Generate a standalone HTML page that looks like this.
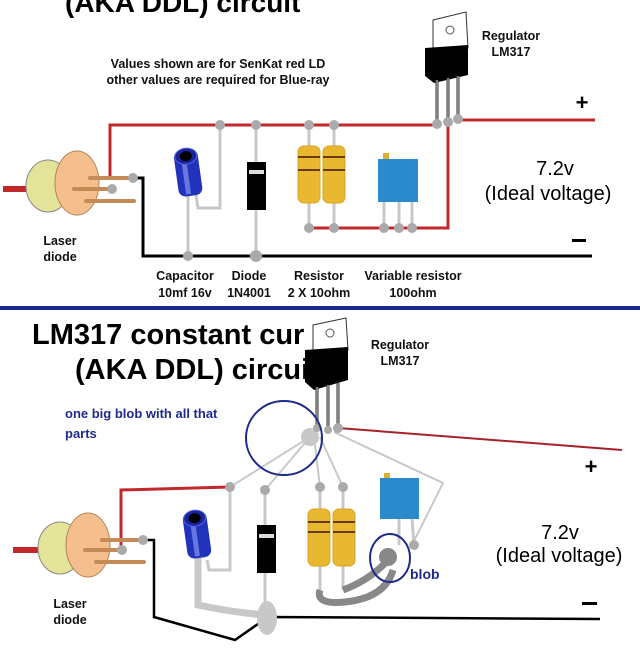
<!DOCTYPE html>
<html><head><meta charset="utf-8"><style>
html,body{margin:0;padding:0;background:#fff;}
svg{display:block;}
text{font-family:"Liberation Sans",sans-serif;}
.c{font-family:"Liberation Sans Narrow","Liberation Sans",sans-serif;font-weight:bold;font-size:12.5px;fill:#111;}
</style></head><body>
<svg width="640" height="650" viewBox="0 0 640 650" xmlns="http://www.w3.org/2000/svg">
<!-- ============ TOP ============ -->
<text x="65" y="12" font-size="28" font-weight="bold" fill="#000">(AKA DDL) circuit</text>
<text class="c" x="218" y="68" text-anchor="middle">Values shown are for SenKat red LD</text>
<text class="c" x="218" y="84" text-anchor="middle">other values are required for Blue-ray</text>
<text class="c" x="511" y="40" text-anchor="middle">Regulator</text>
<text class="c" x="511" y="56" text-anchor="middle">LM317</text>
<polygon points="433,20 466,12 468,48 433,48" fill="#fff" stroke="#333" stroke-width="1"/>
<circle cx="450" cy="30" r="4" fill="none" stroke="#555"/>
<polygon points="425,48 468,45 468,75 434,83 425,76" fill="#000"/>
<g stroke="#333" stroke-width="3"><line x1="437" y1="80" x2="437" y2="125"/><line x1="448" y1="78" x2="448" y2="122"/><line x1="458" y1="76" x2="458" y2="119"/></g>
<g stroke="#ccc" stroke-width="1"><line x1="437" y1="80" x2="437" y2="125"/><line x1="448" y1="78" x2="448" y2="122"/><line x1="458" y1="76" x2="458" y2="119"/></g>
<g stroke="#c0282b" stroke-width="3" fill="none">
<polyline points="110,180 110,125 437,125"/>
<line x1="458" y1="120" x2="595" y2="120"/>
<polyline points="448,122 448,228 309,228"/>
<line x1="3" y1="189" x2="30" y2="189" stroke-width="6"/>
</g>
<polyline points="133,178 143,178 143,256 592,256" fill="none" stroke="#000" stroke-width="3"/>
<ellipse cx="48" cy="186" rx="22" ry="26" fill="#e4e39a" stroke="#888"/>
<ellipse cx="77" cy="183" rx="22" ry="32" fill="#f4bf8c" stroke="#b5835a"/>
<g stroke="#c58a55" stroke-width="4" stroke-linecap="round">
<line x1="90" y1="178" x2="130" y2="178"/><line x1="74" y1="189" x2="112" y2="189"/><line x1="86" y1="201" x2="134" y2="201"/>
</g>
<circle cx="133" cy="178" r="5" fill="#aaa"/><circle cx="112" cy="189" r="5" fill="#aaa"/>
<g stroke="#c8c8c8" stroke-width="3" fill="none">
<line x1="188" y1="190" x2="188" y2="256"/>
<polyline points="196,195 198,208 220,208 220,125"/>
<line x1="256" y1="125" x2="256" y2="256"/>
<line x1="309" y1="125" x2="309" y2="228"/><line x1="334" y1="125" x2="334" y2="228"/>
<line x1="384" y1="200" x2="384" y2="228"/><line x1="399" y1="200" x2="399" y2="228"/><line x1="412" y1="200" x2="412" y2="228"/>
</g>
<g transform="rotate(-8 188 172)">
<rect x="176" y="150" width="24" height="46" rx="7" fill="#2233bb"/>
<rect x="183" y="160" width="5" height="34" fill="#6677dd"/>
<ellipse cx="188" cy="156" rx="11" ry="8" fill="#1a2399" stroke="#5566ee"/>
<ellipse cx="188" cy="156" rx="6" ry="5" fill="#000"/>
</g>
<rect x="247" y="162" width="19" height="48" fill="#000"/>
<rect x="249" y="170" width="15" height="4" fill="#ddd"/>
<rect x="298" y="146" width="22" height="57" rx="6" fill="#e8b830" stroke="#d9a520"/>
<rect x="323" y="146" width="22" height="57" rx="6" fill="#e8b830" stroke="#d9a520"/>
<g stroke="#6a3b12" stroke-width="2"><line x1="298" y1="157" x2="320" y2="157"/><line x1="298" y1="170" x2="320" y2="170"/><line x1="323" y1="157" x2="345" y2="157"/><line x1="323" y1="170" x2="345" y2="170"/></g>
<rect x="383" y="153" width="6" height="6" fill="#d9b030"/>
<rect x="378" y="159" width="40" height="43" fill="#2a8acc"/>
<g fill="#aaa">
<circle cx="220" cy="125" r="5"/><circle cx="256" cy="125" r="5"/><circle cx="309" cy="125" r="5"/><circle cx="334" cy="125" r="5"/>
<circle cx="437" cy="124" r="5"/><circle cx="448" cy="122" r="5"/><circle cx="458" cy="119" r="5"/>
<circle cx="309" cy="228" r="5"/><circle cx="334" cy="228" r="5"/><circle cx="384" cy="228" r="5"/><circle cx="399" cy="228" r="5"/><circle cx="412" cy="228" r="5"/>
<circle cx="188" cy="256" r="5"/><circle cx="256" cy="256" r="6"/>
</g>
<text x="582" y="110" font-size="22" font-weight="bold" text-anchor="middle">+</text>
<text x="555" y="175" font-size="20" text-anchor="middle">7.2v</text>
<text x="548" y="200" font-size="20" text-anchor="middle">(Ideal voltage)</text>
<rect x="572" y="239" width="14" height="3" fill="#000"/>
<text class="c" x="60" y="245" text-anchor="middle">Laser</text>
<text class="c" x="60" y="261" text-anchor="middle">diode</text>
<text class="c" x="185" y="280" text-anchor="middle">Capacitor</text>
<text class="c" x="185" y="297" text-anchor="middle">10mf 16v</text>
<text class="c" x="249" y="280" text-anchor="middle">Diode</text>
<text class="c" x="249" y="297" text-anchor="middle">1N4001</text>
<text class="c" x="319" y="280" text-anchor="middle">Resistor</text>
<text class="c" x="319" y="297" text-anchor="middle">2 X 10ohm</text>
<text class="c" x="413" y="280" text-anchor="middle">Variable resistor</text>
<text class="c" x="413" y="297" text-anchor="middle">100ohm</text>
<rect x="0" y="306" width="640" height="4" fill="#1c2a8c"/>
<!-- ============ BOTTOM ============ -->
<text x="32" y="344" font-size="29" font-weight="bold" fill="#000">LM317 constant cur</text>
<text x="75" y="379" font-size="29" font-weight="bold" fill="#000">(AKA DDL) circui</text>
<polygon points="313,325 346,318 348,350 313,350" fill="#fff" stroke="#333"/>
<circle cx="330" cy="333" r="4" fill="none" stroke="#555"/>
<polygon points="305,350 348,347 348,380 314,390 305,382" fill="#000"/>
<g stroke="#333" stroke-width="3"><line x1="317" y1="387" x2="317" y2="428"/><line x1="328" y1="385" x2="328" y2="428"/><line x1="338" y1="383" x2="338" y2="426"/></g>
<g stroke="#ccc" stroke-width="1"><line x1="317" y1="387" x2="317" y2="428"/><line x1="328" y1="385" x2="328" y2="428"/><line x1="338" y1="383" x2="338" y2="426"/></g>
<text class="c" x="400" y="349" text-anchor="middle">Regulator</text>
<text class="c" x="400" y="365" text-anchor="middle">LM317</text>
<text x="65" y="418" font-size="13" font-weight="bold" fill="#1e2a8a">one big blob with all that</text>
<text x="65" y="438" font-size="13" font-weight="bold" fill="#1e2a8a">parts</text>
<line x1="338" y1="428" x2="622" y2="450" stroke="#a52228" stroke-width="2"/>
<g stroke="#c8c8c8" stroke-width="2" fill="none">
<line x1="310" y1="437" x2="230" y2="487"/><line x1="310" y1="437" x2="265" y2="490"/>
<line x1="314" y1="437" x2="320" y2="487"/><line x1="320" y1="437" x2="343" y2="487"/>
<polyline points="334,432 443,483 413,543"/>
</g>
<polyline points="121,552 121,490 230,487" fill="none" stroke="#c0282b" stroke-width="3"/>
<line x1="13" y1="550" x2="42" y2="550" stroke="#c0282b" stroke-width="6"/>
<polyline points="143,540 154,540 154,617 235,640 268,617 600,619" fill="none" stroke="#000" stroke-width="2.5"/>
<ellipse cx="60" cy="548" rx="22" ry="26" fill="#e4e39a" stroke="#888"/>
<ellipse cx="88" cy="545" rx="22" ry="32" fill="#f4bf8c" stroke="#b5835a"/>
<g stroke="#c58a55" stroke-width="4" stroke-linecap="round"><line x1="102" y1="540" x2="142" y2="540"/><line x1="85" y1="550" x2="122" y2="550"/><line x1="96" y1="562" x2="144" y2="562"/></g>
<circle cx="143" cy="540" r="5" fill="#aaa"/><circle cx="122" cy="550" r="5" fill="#aaa"/>
<g stroke="#c8c8c8" stroke-width="3" fill="none">
<polyline points="207,560 209,570 230,570 230,487"/>
<line x1="265" y1="490" x2="265" y2="620"/>
<line x1="320" y1="487" x2="320" y2="590"/><line x1="343" y1="487" x2="343" y2="590"/>
<line x1="399" y1="518" x2="399" y2="545"/><line x1="412" y1="518" x2="414" y2="545"/>
</g>
<path d="M198,555 L198,605 Q230,612 265,615" fill="none" stroke="#c8c8c8" stroke-width="7"/>
<ellipse cx="267" cy="618" rx="10" ry="17" fill="#c8c8c8"/>
<path d="M320,590 Q315,605 345,602 Q385,598 393,570" fill="none" stroke="#888" stroke-width="7"/>
<path d="M343,590 Q370,580 388,560" fill="none" stroke="#888" stroke-width="7"/>
<circle cx="388" cy="557" r="9" fill="#888"/>
<g transform="rotate(-8 197 535)">
<rect x="185" y="512" width="24" height="46" rx="7" fill="#2233bb"/>
<rect x="192" y="522" width="5" height="34" fill="#6677dd"/>
<ellipse cx="197" cy="518" rx="11" ry="8" fill="#1a2399" stroke="#5566ee"/>
<ellipse cx="197" cy="518" rx="6" ry="5" fill="#000"/>
</g>
<rect x="257" y="525" width="19" height="48" fill="#000"/>
<rect x="259" y="534" width="15" height="4" fill="#ddd"/>
<rect x="308" y="509" width="22" height="57" rx="6" fill="#e8b830" stroke="#d9a520"/>
<rect x="333" y="509" width="22" height="57" rx="6" fill="#e8b830" stroke="#d9a520"/>
<g stroke="#6a3b12" stroke-width="2"><line x1="308" y1="522" x2="330" y2="522"/><line x1="308" y1="532" x2="330" y2="532"/><line x1="333" y1="522" x2="355" y2="522"/><line x1="333" y1="532" x2="355" y2="532"/></g>
<rect x="384" y="473" width="6" height="6" fill="#d9b030"/>
<rect x="380" y="478" width="39" height="41" fill="#2a8acc"/>
<g fill="#aaa">
<circle cx="310" cy="437" r="9" fill="#c8c8c8"/>
<circle cx="317" cy="428" r="4"/><circle cx="328" cy="430" r="4"/><circle cx="338" cy="428" r="5"/>
<circle cx="230" cy="487" r="5"/><circle cx="265" cy="490" r="5"/><circle cx="320" cy="487" r="5"/><circle cx="343" cy="487" r="5"/>
<circle cx="414" cy="545" r="5"/>
</g>
<ellipse cx="284" cy="438" rx="38" ry="37" fill="none" stroke="#1e2a8a" stroke-width="2"/>
<ellipse cx="390" cy="558" rx="20" ry="24" fill="none" stroke="#1e2a8a" stroke-width="2"/>
<text x="410" y="579" font-size="14" font-weight="bold" fill="#1e2a8a">blob</text>
<text x="591" y="474" font-size="22" font-weight="bold" text-anchor="middle">+</text>
<text x="560" y="539" font-size="20" text-anchor="middle">7.2v</text>
<text x="559" y="562" font-size="20" text-anchor="middle">(Ideal voltage)</text>
<rect x="582" y="602" width="15" height="3" fill="#000"/>
<text class="c" x="70" y="608" text-anchor="middle">Laser</text>
<text class="c" x="70" y="624" text-anchor="middle">diode</text>
</svg>
</body></html>
